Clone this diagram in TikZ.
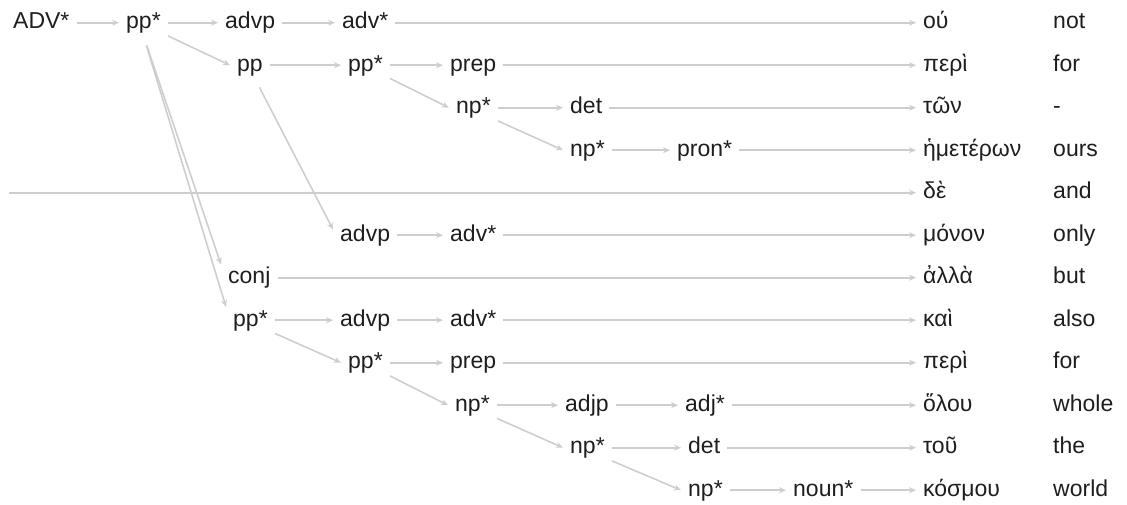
\documentclass[tikz,border=0pt]{standalone}
\usepackage{fontspec}
\setmainfont{Liberation Sans}
\usetikzlibrary{positioning}
\usetikzlibrary{arrows.meta}
\definecolor{linkgray}{RGB}{206,206,206}
\definecolor{wordink}{RGB}{30,30,30}

\begin{document}
\begin{tikzpicture}[x=1pt,y=-1pt,
    tag/.style={anchor=west, inner xsep=7pt, inner ysep=2pt, text height=17pt,
        text depth=5pt, font=\fontsize{23}{27}\selectfont, text=wordink},
    link/.style={draw=linkgray, line width=1.6pt, -{Stealth[length=7pt,width=6pt]}},
    down/.style={link}]
    \useasboundingbox (0,0) rectangle (1127,504);

    % Greek words and glosses
    \foreach \w/\g [count=\i from 0] in {ού/not, περὶ/for, τῶν/-, ἡμετέρων/ours,
        δὲ/and, μόνον/only, ἀλλὰ/but, καὶ/also, περὶ/for, ὅλου/whole, τοῦ/the, κόσμου/world} {
        \node[tag] (w\i) at (916,22.7+42.5*\i) {\w};
        \node[tag] (g\i) at (1046,22.7+42.5*\i) {\g};
    }

    % Tree nodes
    \node[tag] (adv0) at (6,22.7) {ADV*};
    \node[tag] (pp0) at (119,22.7) {pp*};
    \node[tag] (advp0) at (218,22.7) {advp};
    \node[tag] (advs0) at (335,22.7) {adv*};

    \node[tag] (pp1) at (230,65.2) {pp};
    \node[tag] (pps1) at (341,65.2) {pp*};
    \node[tag] (prep1) at (443,65.2) {prep};

    \node[tag] (np2) at (449,107.7) {np*};
    \node[tag] (det2) at (563,107.7) {det};

    \node[tag] (np3) at (563,150.2) {np*};
    \node[tag] (pron3) at (670,150.2) {pron*};

    \coordinate (start4) at (9,192.7);

    \node[tag] (advp5) at (333,235.2) {advp};
    \node[tag] (advs5) at (443,235.2) {adv*};

    \node[tag] (conj6) at (221,277.7) {conj};

    \node[tag] (pp7) at (226,320.2) {pp*};
    \node[tag] (advp7) at (333,320.2) {advp};
    \node[tag] (advs7) at (443,320.2) {adv*};

    \node[tag] (pp8) at (341,362.7) {pp*};
    \node[tag] (prep8) at (443,362.7) {prep};

    \node[tag] (np9) at (448,405.2) {np*};
    \node[tag] (adjp9) at (558,405.2) {adjp};
    \node[tag] (adjs9) at (678,405.2) {adj*};

    \node[tag] (np10) at (563,447.7) {np*};
    \node[tag] (det10) at (681,447.7) {det};

    \node[tag] (np11) at (681,490.2) {np*};
    \node[tag] (noun11) at (786,490.2) {noun*};

    % Straight links
    \draw[link] (adv0) -- (pp0);
    \draw[link] (pp0) -- (advp0);
    \draw[link] (advp0) -- (advs0);
    \draw[link] (advs0) -- (w0);
    \draw[link] (pp1) -- (pps1);
    \draw[link] (pps1) -- (prep1);
    \draw[link] (prep1) -- (w1);
    \draw[link] (np2) -- (det2);
    \draw[link] (det2) -- (w2);
    \draw[link] (np3) -- (pron3);
    \draw[link] (pron3) -- (w3);
    \draw[link, line width=2.4pt] (start4) -- (w4);
    \draw[link] (advp5) -- (advs5);
    \draw[link] (advs5) -- (w5);
    \draw[link] (conj6) -- (w6);
    \draw[link] (pp7) -- (advp7);
    \draw[link] (advp7) -- (advs7);
    \draw[link] (advs7) -- (w7);
    \draw[link] (pp8) -- (prep8);
    \draw[link] (prep8) -- (w8);
    \draw[link] (np9) -- (adjp9);
    \draw[link] (adjp9) -- (adjs9);
    \draw[link] (adjs9) -- (w9);
    \draw[link] (np10) -- (det10);
    \draw[link] (det10) -- (w10);
    \draw[link] (np11) -- (noun11);
    \draw[link] (noun11) -- (w11);

    % Links down to the next row
    \foreach \a/\b in {pp0/pp1, pps1/np2, np2/np3, pp7/pp8, pp8/np9, np9/np10, np10/np11}
        \draw[down] (\a.south east) -- (\b.west);

    % Long links
    \draw[link, shorten <=10pt] (pp0.south) -- (conj6.north west);
    \draw[link, shorten <=10pt] (pp0.south) -- (pp7.north west);
    \draw[link, shorten <=10pt] (pp1.-70) -- (advp5.170);

\end{tikzpicture}
\end{document}
